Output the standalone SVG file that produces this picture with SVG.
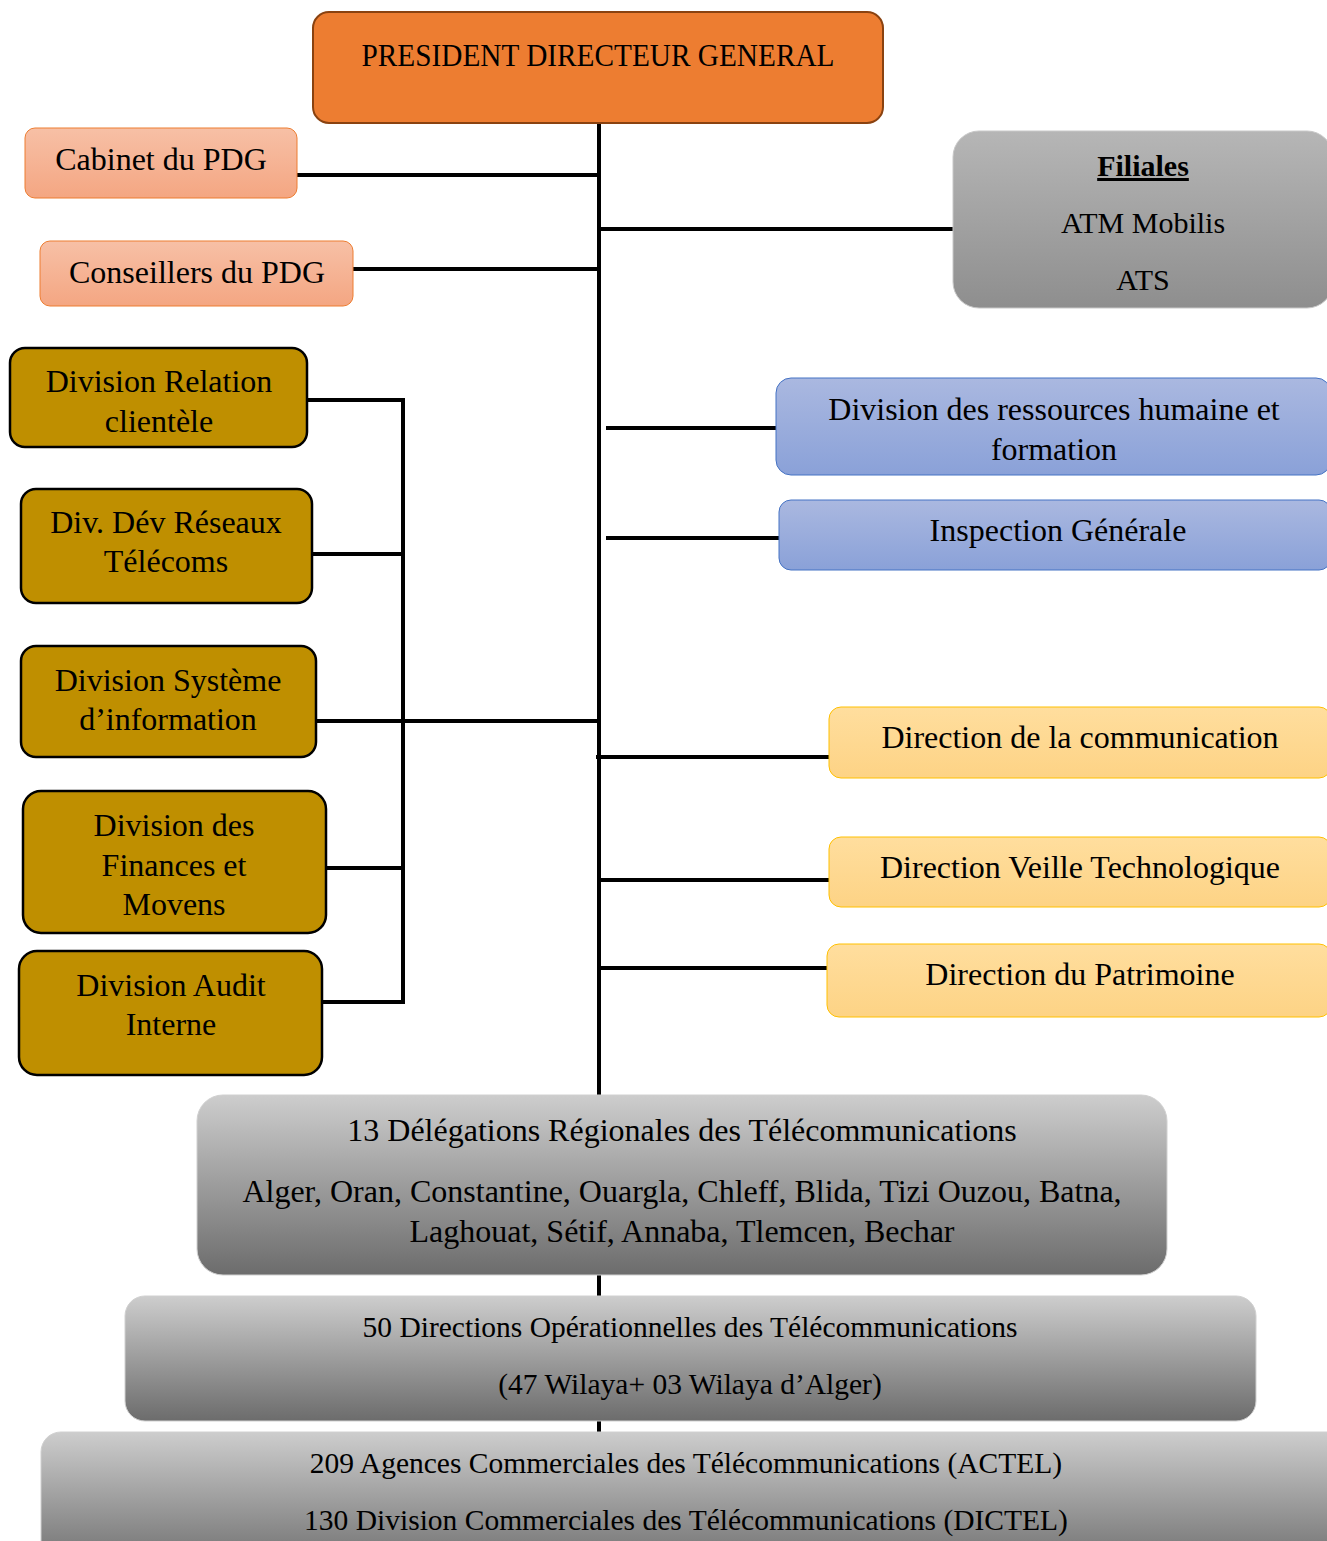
<svg xmlns="http://www.w3.org/2000/svg" width="1327" height="1541" viewBox="0 0 1327 1541">
<defs>
<linearGradient id="gSalmon" x1="0" y1="0" x2="0" y2="1"><stop offset="0" stop-color="#F7C0A6"/><stop offset="1" stop-color="#F4A682"/></linearGradient>
<linearGradient id="gBlue" x1="0" y1="0" x2="0" y2="1"><stop offset="0" stop-color="#AAB8E0"/><stop offset="1" stop-color="#8AA1D8"/></linearGradient>
<linearGradient id="gYellow" x1="0" y1="0" x2="0" y2="1"><stop offset="0" stop-color="#FFDE9E"/><stop offset="1" stop-color="#FDD385"/></linearGradient>
<linearGradient id="gGray" x1="0" y1="0" x2="0" y2="1"><stop offset="0" stop-color="#B6B6B6"/><stop offset="1" stop-color="#8E8E8E"/></linearGradient>
<linearGradient id="gGrayDark" x1="0" y1="0" x2="0" y2="1"><stop offset="0" stop-color="#CDCDCD"/><stop offset="1" stop-color="#6C6C6C"/></linearGradient>
</defs>
<style>
text{font-family:"Liberation Serif","Times New Roman",serif;font-size:32px;fill:#000;text-anchor:middle}
.fil{font-size:30px}
.bot{font-size:29.5px}
.pdg{fill:#ED7D31;stroke:#8A4210;stroke-width:2}
.salmon{fill:url(#gSalmon);stroke:#ED7D31;stroke-width:1}
.gold{fill:#BF8F00;stroke:#000;stroke-width:2.5}
.blue{fill:url(#gBlue);stroke:#4472C4;stroke-width:1}
.yellow{fill:url(#gYellow);stroke:#FFC000;stroke-width:1}
.gray{fill:url(#gGray);stroke:#C8C8C8;stroke-width:1}
.grayd{fill:url(#gGrayDark);stroke:#D0D0D0;stroke-width:1}
.conn line,.conn polyline{stroke:#000;stroke-width:4;fill:none}
</style>
<g class="conn" id="connectors">
<line x1="599" y1="123" x2="599" y2="1432"/>
<line x1="297" y1="175" x2="597" y2="175"/>
<line x1="353" y1="269" x2="599" y2="269"/>
<line x1="601" y1="229" x2="953" y2="229"/>
<polyline points="307,400 403,400 403,1002 322,1002"/>
<line x1="312" y1="554" x2="403" y2="554"/>
<line x1="316" y1="721" x2="599" y2="721"/>
<line x1="326" y1="868" x2="403" y2="868"/>
<line x1="606" y1="428" x2="776" y2="428"/>
<line x1="606" y1="538" x2="779" y2="538"/>
<line x1="596" y1="757" x2="829" y2="757"/>
<line x1="601" y1="880" x2="829" y2="880"/>
<line x1="601" y1="968" x2="827" y2="968"/>
</g>
<g id="pdg"><rect class="pdg" x="313" y="12" width="570" height="111" rx="16"/><text x="598" y="66" font-size="28" textLength="473" lengthAdjust="spacingAndGlyphs">PRESIDENT DIRECTEUR GENERAL</text></g>
<g id="cabinet"><rect class="salmon" x="25" y="128" width="272" height="70" rx="10"/><text x="161" y="170">Cabinet du PDG</text></g>
<g id="conseillers"><rect class="salmon" x="40" y="241" width="313" height="65" rx="10"/><text x="197" y="283">Conseillers du PDG</text></g>
<g id="filiales"><rect class="gray" x="953" y="131" width="380" height="177" rx="26"/><text class="fil" x="1143" y="176" font-weight="bold" text-decoration="underline">Filiales</text><text class="fil" x="1143" y="233">ATM Mobilis</text><text class="fil" x="1143" y="290">ATS</text></g>
<g id="div-relation"><rect class="gold" x="10" y="348" width="297" height="99" rx="15"/><text x="159" y="392">Division Relation</text><text x="159" y="432">clientèle</text></g>
<g id="div-reseaux"><rect class="gold" x="21" y="489" width="291" height="114" rx="15"/><text x="166" y="533">Div. Dév Réseaux</text><text x="166" y="572">Télécoms</text></g>
<g id="div-si"><rect class="gold" x="21" y="646" width="295" height="111" rx="15"/><text x="168" y="691">Division Système</text><text x="168" y="730">d’information</text></g>
<g id="div-finances"><rect class="gold" x="23" y="791" width="303" height="142" rx="18"/><text x="174" y="836">Division des</text><text x="174" y="876">Finances et</text><text x="174" y="915">Movens</text></g>
<g id="div-audit"><rect class="gold" x="19" y="951" width="303" height="124" rx="18"/><text x="171" y="996">Division Audit</text><text x="171" y="1035">Interne</text></g>
<g id="div-rh"><rect class="blue" x="776" y="378" width="555" height="97" rx="15"/><text x="1054" y="420">Division des ressources humaine et</text><text x="1054" y="460">formation</text></g>
<g id="inspection"><rect class="blue" x="779" y="500" width="552" height="70" rx="12"/><text x="1058" y="541">Inspection Générale</text></g>
<g id="dir-comm"><rect class="yellow" x="829" y="707" width="502" height="71" rx="12"/><text x="1080" y="748">Direction de la communication</text></g>
<g id="dir-veille"><rect class="yellow" x="829" y="837" width="502" height="70" rx="12"/><text x="1080" y="878">Direction Veille Technologique</text></g>
<g id="dir-patrimoine"><rect class="yellow" x="827" y="944" width="504" height="73" rx="12"/><text x="1080" y="985">Direction du Patrimoine</text></g>
<g id="delegations"><rect class="grayd" x="197" y="1095" width="970" height="180" rx="26"/><text x="682" y="1141">13 Délégations Régionales des Télécommunications</text><text x="682" y="1202">Alger, Oran, Constantine, Ouargla, Chleff, Blida, Tizi Ouzou, Batna,</text><text x="682" y="1242">Laghouat, Sétif, Annaba, Tlemcen, Bechar</text></g>
<g id="directions-op"><rect class="grayd" x="125" y="1296" width="1131" height="125" rx="20"/><text class="bot" x="690" y="1337">50 Directions Opérationnelles des Télécommunications</text><text class="bot" x="690" y="1394">(47 Wilaya+ 03 Wilaya d’Alger)</text></g>
<g id="agences"><rect class="grayd" x="41" y="1432" width="1320" height="140" rx="20"/><text class="bot" x="686" y="1473">209 Agences Commerciales des Télécommunications (ACTEL)</text><text class="bot" x="686" y="1530">130 Division Commerciales des Télécommunications (DICTEL)</text></g>
</svg>
